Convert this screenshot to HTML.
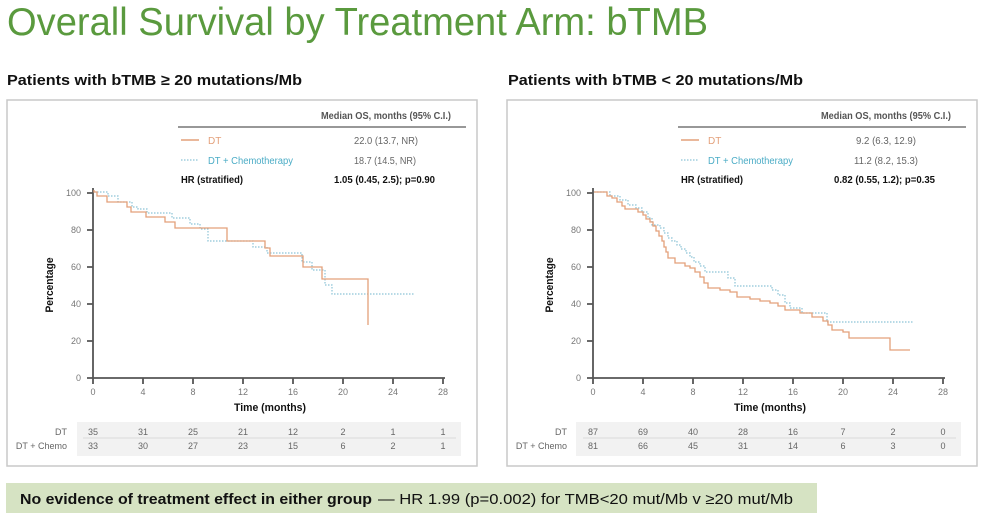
<!DOCTYPE html>
<html><head><meta charset="utf-8"><style>
html,body{margin:0;padding:0;background:#fff;}
svg{display:block;font-family:"Liberation Sans",sans-serif;}
</style></head><body>
<svg width="982" height="513" viewBox="0 0 982 513" xmlns="http://www.w3.org/2000/svg">
<text x="7" y="35" font-size="39" fill="#5a9a3e" textLength="701" lengthAdjust="spacingAndGlyphs">Overall Survival by Treatment Arm: bTMB</text>
<text x="7" y="85" font-size="15" font-weight="bold" fill="#111" textLength="295" lengthAdjust="spacingAndGlyphs">Patients with bTMB ≥ 20 mutations/Mb</text>
<text x="508" y="85" font-size="15" font-weight="bold" fill="#111" textLength="295" lengthAdjust="spacingAndGlyphs">Patients with bTMB &lt; 20 mutations/Mb</text>

<!-- LEFT PANEL -->
<g>
<rect x="7" y="100" width="470" height="366" fill="#fff" stroke="#c8c8c8" stroke-width="1.5"/>
<text x="321" y="119" font-size="10" font-weight="bold" fill="#555" textLength="130" lengthAdjust="spacingAndGlyphs">Median OS, months (95% C.I.)</text>
<line x1="178" y1="127" x2="466" y2="127" stroke="#777" stroke-width="1.5"/>
<line x1="181" y1="140" x2="199" y2="140" stroke="#e3a07a" stroke-width="1.5"/>
<text x="208" y="144" font-size="10" fill="#e3a07a">DT</text>
<text x="386" y="144" font-size="10" fill="#666" text-anchor="middle" textLength="64" lengthAdjust="spacingAndGlyphs">22.0 (13.7, NR)</text>
<line x1="181" y1="160" x2="199" y2="160" stroke="#8cc3d6" stroke-width="1.2" stroke-dasharray="1.5,1.5"/>
<text x="208" y="164" font-size="10" fill="#4bacc6" textLength="85" lengthAdjust="spacingAndGlyphs">DT + Chemotherapy</text>
<text x="385" y="164" font-size="10" fill="#666" text-anchor="middle" textLength="62" lengthAdjust="spacingAndGlyphs">18.7 (14.5, NR)</text>
<text x="181" y="183" font-size="10" font-weight="bold" fill="#111" textLength="62" lengthAdjust="spacingAndGlyphs">HR (stratified)</text>
<text x="334" y="183" font-size="10" font-weight="bold" fill="#111" textLength="101" lengthAdjust="spacingAndGlyphs">1.05 (0.45, 2.5); p=0.90</text>

<g stroke="#555" stroke-width="1.8" fill="none">
<line x1="93" y1="188" x2="93" y2="379"/>
<line x1="92" y1="378" x2="445" y2="378"/>
<path d="M87,193H93M87,230H93M87,267H93M87,304H93M87,341H93M87,378H93"/>
<path d="M93,378V384M143,378V384M193,378V384M243,378V384M293,378V384M343,378V384M393,378V384M443,378V384"/>
</g>
<g font-size="9" fill="#777" text-anchor="end">
<text x="81" y="196">100</text><text x="81" y="233">80</text><text x="81" y="270">60</text><text x="81" y="307">40</text><text x="81" y="344">20</text><text x="81" y="381">0</text>
</g>
<g font-size="9" fill="#777" text-anchor="middle">
<text x="93" y="395">0</text><text x="143" y="395">4</text><text x="193" y="395">8</text><text x="243" y="395">12</text><text x="293" y="395">16</text><text x="343" y="395">20</text><text x="393" y="395">24</text><text x="443" y="395">28</text>
</g>
<text x="270" y="411" font-size="11" font-weight="bold" fill="#111" text-anchor="middle" textLength="72" lengthAdjust="spacingAndGlyphs">Time (months)</text>
<text transform="translate(53,285) rotate(-90)" font-size="11" font-weight="bold" fill="#111" text-anchor="middle" textLength="55" lengthAdjust="spacingAndGlyphs">Percentage</text>

<path d="M94,192H108V196H118V202H132V207H138V209H147V213H172V218H190V224H200V229H208V241H253V247H267V253H302V262H312V270H325V285H332V294H415" fill="none" stroke="#8cc3d6" stroke-width="1.2" stroke-dasharray="1.5,1.5"/>
<path d="M94,190V192H97V196H107V202H127V207H131V212H146V217H165V222H175V228H227V241H265V248H270V256H303V267H322V279H368V325" fill="none" stroke="#e3a07a" stroke-width="1.3"/>

<rect x="77" y="422" width="384" height="34" fill="#f2f2f2"/>
<line x1="83" y1="438" x2="456" y2="438" stroke="#d9d9d9" stroke-width="1"/>
<g font-size="9" fill="#666" text-anchor="end">
<text x="67" y="435">DT</text><text x="67" y="449">DT + Chemo</text>
</g>
<g font-size="9" fill="#666" text-anchor="middle">
<text x="93" y="435">35</text><text x="143" y="435">31</text><text x="193" y="435">25</text><text x="243" y="435">21</text><text x="293" y="435">12</text><text x="343" y="435">2</text><text x="393" y="435">1</text><text x="443" y="435">1</text>
<text x="93" y="449">33</text><text x="143" y="449">30</text><text x="193" y="449">27</text><text x="243" y="449">23</text><text x="293" y="449">15</text><text x="343" y="449">6</text><text x="393" y="449">2</text><text x="443" y="449">1</text>
</g>
</g>

<!-- RIGHT PANEL -->
<g>
<rect x="507" y="100" width="470" height="366" fill="#fff" stroke="#c8c8c8" stroke-width="1.5"/>
<text x="821" y="119" font-size="10" font-weight="bold" fill="#555" textLength="130" lengthAdjust="spacingAndGlyphs">Median OS, months (95% C.I.)</text>
<line x1="678" y1="127" x2="966" y2="127" stroke="#777" stroke-width="1.5"/>
<line x1="681" y1="140" x2="699" y2="140" stroke="#e3a07a" stroke-width="1.5"/>
<text x="708" y="144" font-size="10" fill="#e3a07a">DT</text>
<text x="886" y="144" font-size="10" fill="#666" text-anchor="middle" textLength="60" lengthAdjust="spacingAndGlyphs">9.2 (6.3, 12.9)</text>
<line x1="681" y1="160" x2="699" y2="160" stroke="#8cc3d6" stroke-width="1.2" stroke-dasharray="1.5,1.5"/>
<text x="708" y="164" font-size="10" fill="#4bacc6" textLength="85" lengthAdjust="spacingAndGlyphs">DT + Chemotherapy</text>
<text x="886" y="164" font-size="10" fill="#666" text-anchor="middle" textLength="64" lengthAdjust="spacingAndGlyphs">11.2 (8.2, 15.3)</text>
<text x="681" y="183" font-size="10" font-weight="bold" fill="#111" textLength="62" lengthAdjust="spacingAndGlyphs">HR (stratified)</text>
<text x="834" y="183" font-size="10" font-weight="bold" fill="#111" textLength="101" lengthAdjust="spacingAndGlyphs">0.82 (0.55, 1.2); p=0.35</text>

<g stroke="#555" stroke-width="1.8" fill="none">
<line x1="593" y1="188" x2="593" y2="379"/>
<line x1="592" y1="378" x2="945" y2="378"/>
<path d="M587,193H593M587,230H593M587,267H593M587,304H593M587,341H593M587,378H593"/>
<path d="M593,378V384M643,378V384M693,378V384M743,378V384M793,378V384M843,378V384M893,378V384M943,378V384"/>
</g>
<g font-size="9" fill="#777" text-anchor="end">
<text x="581" y="196">100</text><text x="581" y="233">80</text><text x="581" y="270">60</text><text x="581" y="307">40</text><text x="581" y="344">20</text><text x="581" y="381">0</text>
</g>
<g font-size="9" fill="#777" text-anchor="middle">
<text x="593" y="395">0</text><text x="643" y="395">4</text><text x="693" y="395">8</text><text x="743" y="395">12</text><text x="793" y="395">16</text><text x="843" y="395">20</text><text x="893" y="395">24</text><text x="943" y="395">28</text>
</g>
<text x="770" y="411" font-size="11" font-weight="bold" fill="#111" text-anchor="middle" textLength="72" lengthAdjust="spacingAndGlyphs">Time (months)</text>
<text transform="translate(553,285) rotate(-90)" font-size="11" font-weight="bold" fill="#111" text-anchor="middle" textLength="55" lengthAdjust="spacingAndGlyphs">Percentage</text>

<path d="M594,192H610V196H620V200H628V205H636V208H642V212H648V218H652V225H660V228H664V233H668V238H672V241H677V245H681V249H686V253H690V257H694V262H700V266H705V272H728V278H735V286H772V290H778V295H785V303H790V308H802V313H827V322H913" fill="none" stroke="#8cc3d6" stroke-width="1.2" stroke-dasharray="1.5,1.5"/>
<path d="M594,192H607V196H612V198H617V202H622V206H625V209H638V212H643V215H646V219H650V222H653V226H656V231H659V236H662V241H664V247H666V252H668V258H675V263H685V266H690V268H695V272H700V277H704V283H708V288H720V290H730V292H737V297H750V299H760V301H770V303H778V306H785V310H800V313H812V317H823V321H828V325H832V330H843V332H849V338H890V350H910" fill="none" stroke="#e3a07a" stroke-width="1.3"/>

<rect x="576" y="422" width="385" height="34" fill="#f2f2f2"/>
<line x1="583" y1="438" x2="956" y2="438" stroke="#d9d9d9" stroke-width="1"/>
<g font-size="9" fill="#666" text-anchor="end">
<text x="567" y="435">DT</text><text x="567" y="449">DT + Chemo</text>
</g>
<g font-size="9" fill="#666" text-anchor="middle">
<text x="593" y="435">87</text><text x="643" y="435">69</text><text x="693" y="435">40</text><text x="743" y="435">28</text><text x="793" y="435">16</text><text x="843" y="435">7</text><text x="893" y="435">2</text><text x="943" y="435">0</text>
<text x="593" y="449">81</text><text x="643" y="449">66</text><text x="693" y="449">45</text><text x="743" y="449">31</text><text x="793" y="449">14</text><text x="843" y="449">6</text><text x="893" y="449">3</text><text x="943" y="449">0</text>
</g>
</g>

<!-- FOOTER -->
<rect x="6" y="483" width="811" height="30" fill="#d6e3c3"/>
<text x="20" y="504" font-size="15" font-weight="bold" fill="#111" textLength="352" lengthAdjust="spacingAndGlyphs">No evidence of treatment effect in either group</text>
<text x="378" y="504" font-size="15" fill="#111" textLength="415" lengthAdjust="spacingAndGlyphs">— HR 1.99 (p=0.002) for TMB&lt;20 mut/Mb v ≥20 mut/Mb</text>
</svg>
</body></html>
